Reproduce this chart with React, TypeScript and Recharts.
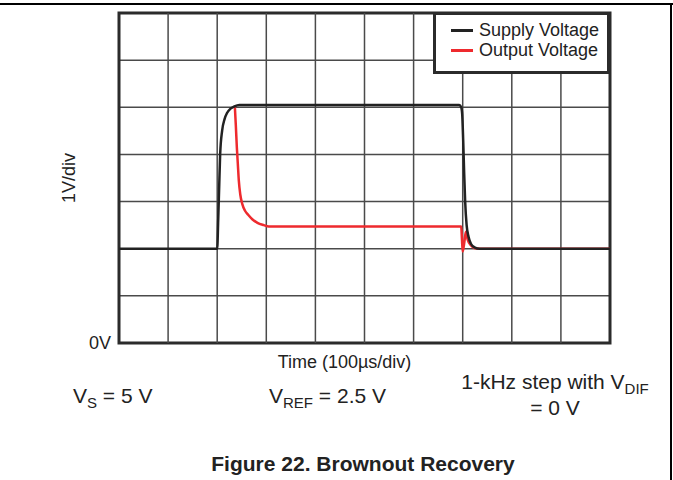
import { LineChart, Line, XAxis, YAxis, CartesianGrid, ReferenceArea, ReferenceLine, Legend } from "recharts";

// time in divisions (100µs/div), voltage in volts (1V/div)
const supplyTime = [0, 2.0, 2.02, 2.04, 2.06, 2.1, 2.15, 2.2, 2.27, 2.35, 2.45, 6.93, 6.97, 6.99, 7.01, 7.03, 7.05, 7.08, 7.12, 7.17, 7.24, 7.35, 10];
const supplyVolts = [2, 2, 2.6, 3.3, 4.0, 4.5, 4.75, 4.88, 4.97, 5.02, 5.05, 5.05, 5.0, 4.85, 4.3, 3.6, 3.0, 2.5, 2.25, 2.1, 2.03, 2.0, 2.0];

const outputTime = [2.36, 2.38, 2.4, 2.42, 2.44, 2.47, 2.51, 2.57, 2.63, 2.72, 2.82, 2.95, 3.05, 6.97, 6.985, 7.0, 7.035, 7.065, 7.1, 7.17, 7.25, 7.35, 10];
const outputVolts = [5.0, 4.6, 4.15, 3.8, 3.45, 3.15, 2.95, 2.8, 2.72, 2.62, 2.55, 2.5, 2.47, 2.47, 2.2, 1.94, 2.15, 2.36, 2.2, 2.07, 2.01, 2.0, 2.0];

const gridX = [1, 2, 3, 4, 5, 6, 7, 8, 9];
const gridY = [1, 2, 3, 4, 5, 6];
const yTicks = [0];

const seriesNames = ["Supply Voltage", "Output Voltage"];
const seriesColors = ["#222222", "#ee2a2e"];

const supply = supplyTime.map((t, i) => ({ t, v: supplyVolts[i] }));
const output = outputTime.map((t, i) => ({ t, v: outputVolts[i] }));

const FONT = "'Liberation Sans', Arial, Helvetica, sans-serif";
const INK = "#222";
const GRID = "#4a4a4a";

const LegendBox = () => (
  <div
    style={{
      position: "relative",
      width: 177,
      height: 62,
      boxSizing: "border-box",
      border: "3px solid #2b2b2b",
      background: "#fff",
      fontFamily: FONT,
      fontSize: 18,
      color: INK,
    }}
  >
    {seriesNames.map((name, i) => (
      <div key={name} style={{ position: "absolute", left: 15, top: 5 + i * 20, height: 20, display: "flex", alignItems: "center" }}>
        <span style={{ display: "inline-block", width: 22, height: 3, background: seriesColors[i], marginRight: 6 }} />
        <span style={{ lineHeight: "20px" }}>{name}</span>
      </div>
    ))}
  </div>
);

const textStyle = (left: number, top: number) => ({
  position: "absolute" as const,
  left,
  top,
  fontFamily: FONT,
  fontSize: 21,
  lineHeight: "24px",
  color: INK,
  whiteSpace: "nowrap" as const,
});

const subStyle = { fontSize: 15, position: "relative" as const, top: 5 };

export default function App() {
  return (
    <div style={{ position: "absolute", left: 0, top: 0, width: 673, height: 480, background: "#fff", overflow: "hidden" }}>
      <div style={{ position: "absolute", left: 0, top: 3, width: 673, height: 2, background: "#000" }} />
      <div style={{ position: "absolute", left: 670, top: 3, width: 2, height: 477, background: "#000" }} />

      <LineChart width={673} height={480} margin={{ top: 13, right: 63, bottom: 97, left: 59 }}>
        <CartesianGrid stroke={GRID} strokeWidth={1.5} vertical={false} horizontalValues={gridY} />
        <XAxis
          type="number"
          dataKey="t"
          domain={[0, 10]}
          allowDataOverflow
          height={40}
          tick={false}
          tickLine={false}
          axisLine={false}
          label={{ value: "Time (100µs/div)", position: "insideTop", offset: 12, dx: -20, fill: INK, fontSize: 18, fontFamily: FONT }}
        />
        <YAxis
          type="number"
          domain={[0, 7]}
          allowDataOverflow
          ticks={yTicks}
          width={60}
          tickLine={false}
          axisLine={false}
          tickFormatter={(v) => `${v}V`}
          tick={{ fill: INK, fontSize: 18, fontFamily: FONT }}
          label={{ value: "1V/div", angle: -90, position: "insideLeft", offset: 10, fill: INK, fontSize: 18, fontFamily: FONT, style: { textAnchor: "middle" } }}
        />
        {gridX.map((x) => (
          <ReferenceLine key={`gx-${x}`} x={x} stroke={GRID} strokeWidth={1.5} />
        ))}
        <ReferenceArea x1={0} x2={10} y1={0} y2={7} fill="none" stroke="#2b2b2b" strokeWidth={3} />
        <Line
          data={output}
          dataKey="v"
          name={seriesNames[1]}
          type="monotone"
          stroke={seriesColors[1]}
          strokeWidth={2.5}
          dot={false}
          isAnimationActive={false}
        />
        <Line
          data={supply}
          dataKey="v"
          name={seriesNames[0]}
          type="monotone"
          stroke={seriesColors[0]}
          strokeWidth={2.5}
          dot={false}
          isAnimationActive={false}
        />
        <Legend
          layout="horizontal"
          verticalAlign="middle"
          align="center"
          content={() => <LegendBox />}
          wrapperStyle={{ left: 433, top: 12, width: 177, height: 62 }}
        />
      </LineChart>

      <div style={textStyle(73, 384)}>
        V<span style={subStyle}>S</span> = 5 V
      </div>
      <div style={textStyle(269, 384)}>
        V<span style={subStyle}>REF</span> = 2.5 V
      </div>
      <div style={{ ...textStyle(455, 370), textAlign: "center", width: 200 }}>
        1-kHz step with V<span style={subStyle}>DIF</span>
        <br />= 0 V
      </div>
      <div style={{ ...textStyle(0, 452), width: 726, textAlign: "center", fontWeight: "bold", fontSize: 21 }}>
        Figure 22. Brownout Recovery
      </div>
    </div>
  );
}
